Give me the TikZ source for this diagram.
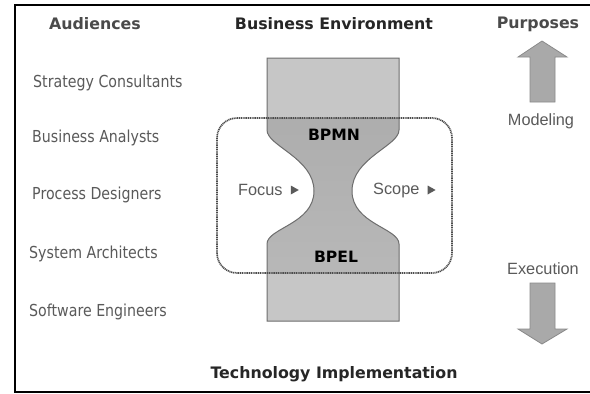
\documentclass[tikz,border=0pt]{standalone}
\usepackage{fontspec}
\setmainfont{DejaVu Sans}
\newfontfamily\narrowfont[FakeStretch=0.86]{DejaVu Sans}
\newfontfamily\plainfont{Liberation Sans}
\definecolor{labelgrey}{HTML}{5A5A5A}
\definecolor{headgrey}{HTML}{4A4A4A}
\definecolor{glasslight}{HTML}{C6C6C6}
\definecolor{glassedge}{HTML}{6E6E6E}
\definecolor{arrowfill}{HTML}{A9A9A9}
\definecolor{arrowedge}{HTML}{8A8A8A}
\tikzset{
  heading/.style={font=\bfseries\fontsize{15.8}{18}\selectfont, inner sep=0pt},
  audience/.style={font=\narrowfont\fontsize{16.5}{18}\selectfont, text=labelgrey, anchor=west, inner sep=0pt},
  purpose/.style={font=\plainfont\fontsize{16.3}{18}\selectfont, text=labelgrey, inner sep=0pt},
  glasslabel/.style={font=\bfseries\fontsize{15.6}{18}\selectfont, text=black, inner sep=0pt},
  sidelabel/.style={font=\plainfont\fontsize{16.3}{18}\selectfont, text=labelgrey, inner sep=0pt, anchor=west},
  pointer/.style={fill=labelgrey},
  bigarrow/.style={fill=arrowfill, draw=arrowedge, line width=0.8pt, line join=miter},
}
\begin{document}
\begin{tikzpicture}[x=1pt,y=-1pt]
\useasboundingbox (0,0) rectangle (590,394);
\fill[white] (0,0) rectangle (590,394);

% outer frame (open on the right)
\draw[line width=2pt, line cap=rect] (590,5) -- (15,5) -- (15,392) -- (590,392);

% hourglass body
\def\glasspath{(267,58) -- (399,58) -- (399,130)
  .. controls (399,146) and (352,158) .. (352,191)
  .. controls (352,224) and (399,228) .. (399,244)
  -- (399,321) -- (267,321) -- (267,244)
  .. controls (267,228) and (314,224) .. (314,191)
  .. controls (314,158) and (267,146) .. (267,130) -- cycle}
\begin{scope}
  \clip \glasspath;
  \fill[glasslight] (260,50) rectangle (410,330);
  \shade[top color=black!32, middle color=black!72, bottom color=black!28]
    (260,118) rectangle (410,273);
\end{scope}
\draw[glassedge, line width=1pt] \glasspath;

% scope box around the narrow waist
\draw[black!70, line width=1.7pt, dash pattern=on 1.1pt off 0.7pt, rounded corners=20pt]
  (217,118) rectangle (452,273);

% column headings
\node[heading, text=headgrey] (aud) at (95,24) {Audiences};
\node[heading, text=black!85] (env) at (334,24) {Business Environment};
\node[heading, text=headgrey] (pur) at (538,24) {Purposes};
\node[heading, text=black!85] (tech) at (334,374) {Technology Implementation};

% audiences
\node[audience] (a1) at (33,83) {Strategy Consultants};
\node[audience] (a2) at (32,138) {Business Analysts};
\node[audience] (a3) at (32,195) {Process Designers};
\node[audience] (a4) at (29,254) {System Architects};
\node[audience] (a5) at (29,312) {Software Engineers};

% hourglass labels
\node[glasslabel] (bpmn) at (334,135) {BPMN};
\node[glasslabel] (bpel) at (336,257) {BPEL};
\node[sidelabel] (focus) at (238,190) {Focus};
\node[sidelabel] (scope) at (373,190) {Scope};
\fill[pointer] ([xshift=8pt,yshift=4.5pt]focus.east) -- ++(0,9) -- ++(8,-4.5) -- cycle;
\fill[pointer] ([xshift=8pt,yshift=4.5pt]scope.east) -- ++(0,9) -- ++(8,-4.5) -- cycle;

% purposes
\node[purpose] (model) at (541,121) {Modeling};
\node[purpose] (exec) at (543,269) {Execution};
\draw[bigarrow] (530,102) -- (530,57) -- (518,57) -- (542,41) -- (567,57) -- (555,57) -- (555,102) -- cycle;
\draw[bigarrow] (530,283) -- (530,329) -- (518,329) -- (542,344) -- (567,329) -- (555,329) -- (555,283) -- cycle;
\end{tikzpicture}
\end{document}
